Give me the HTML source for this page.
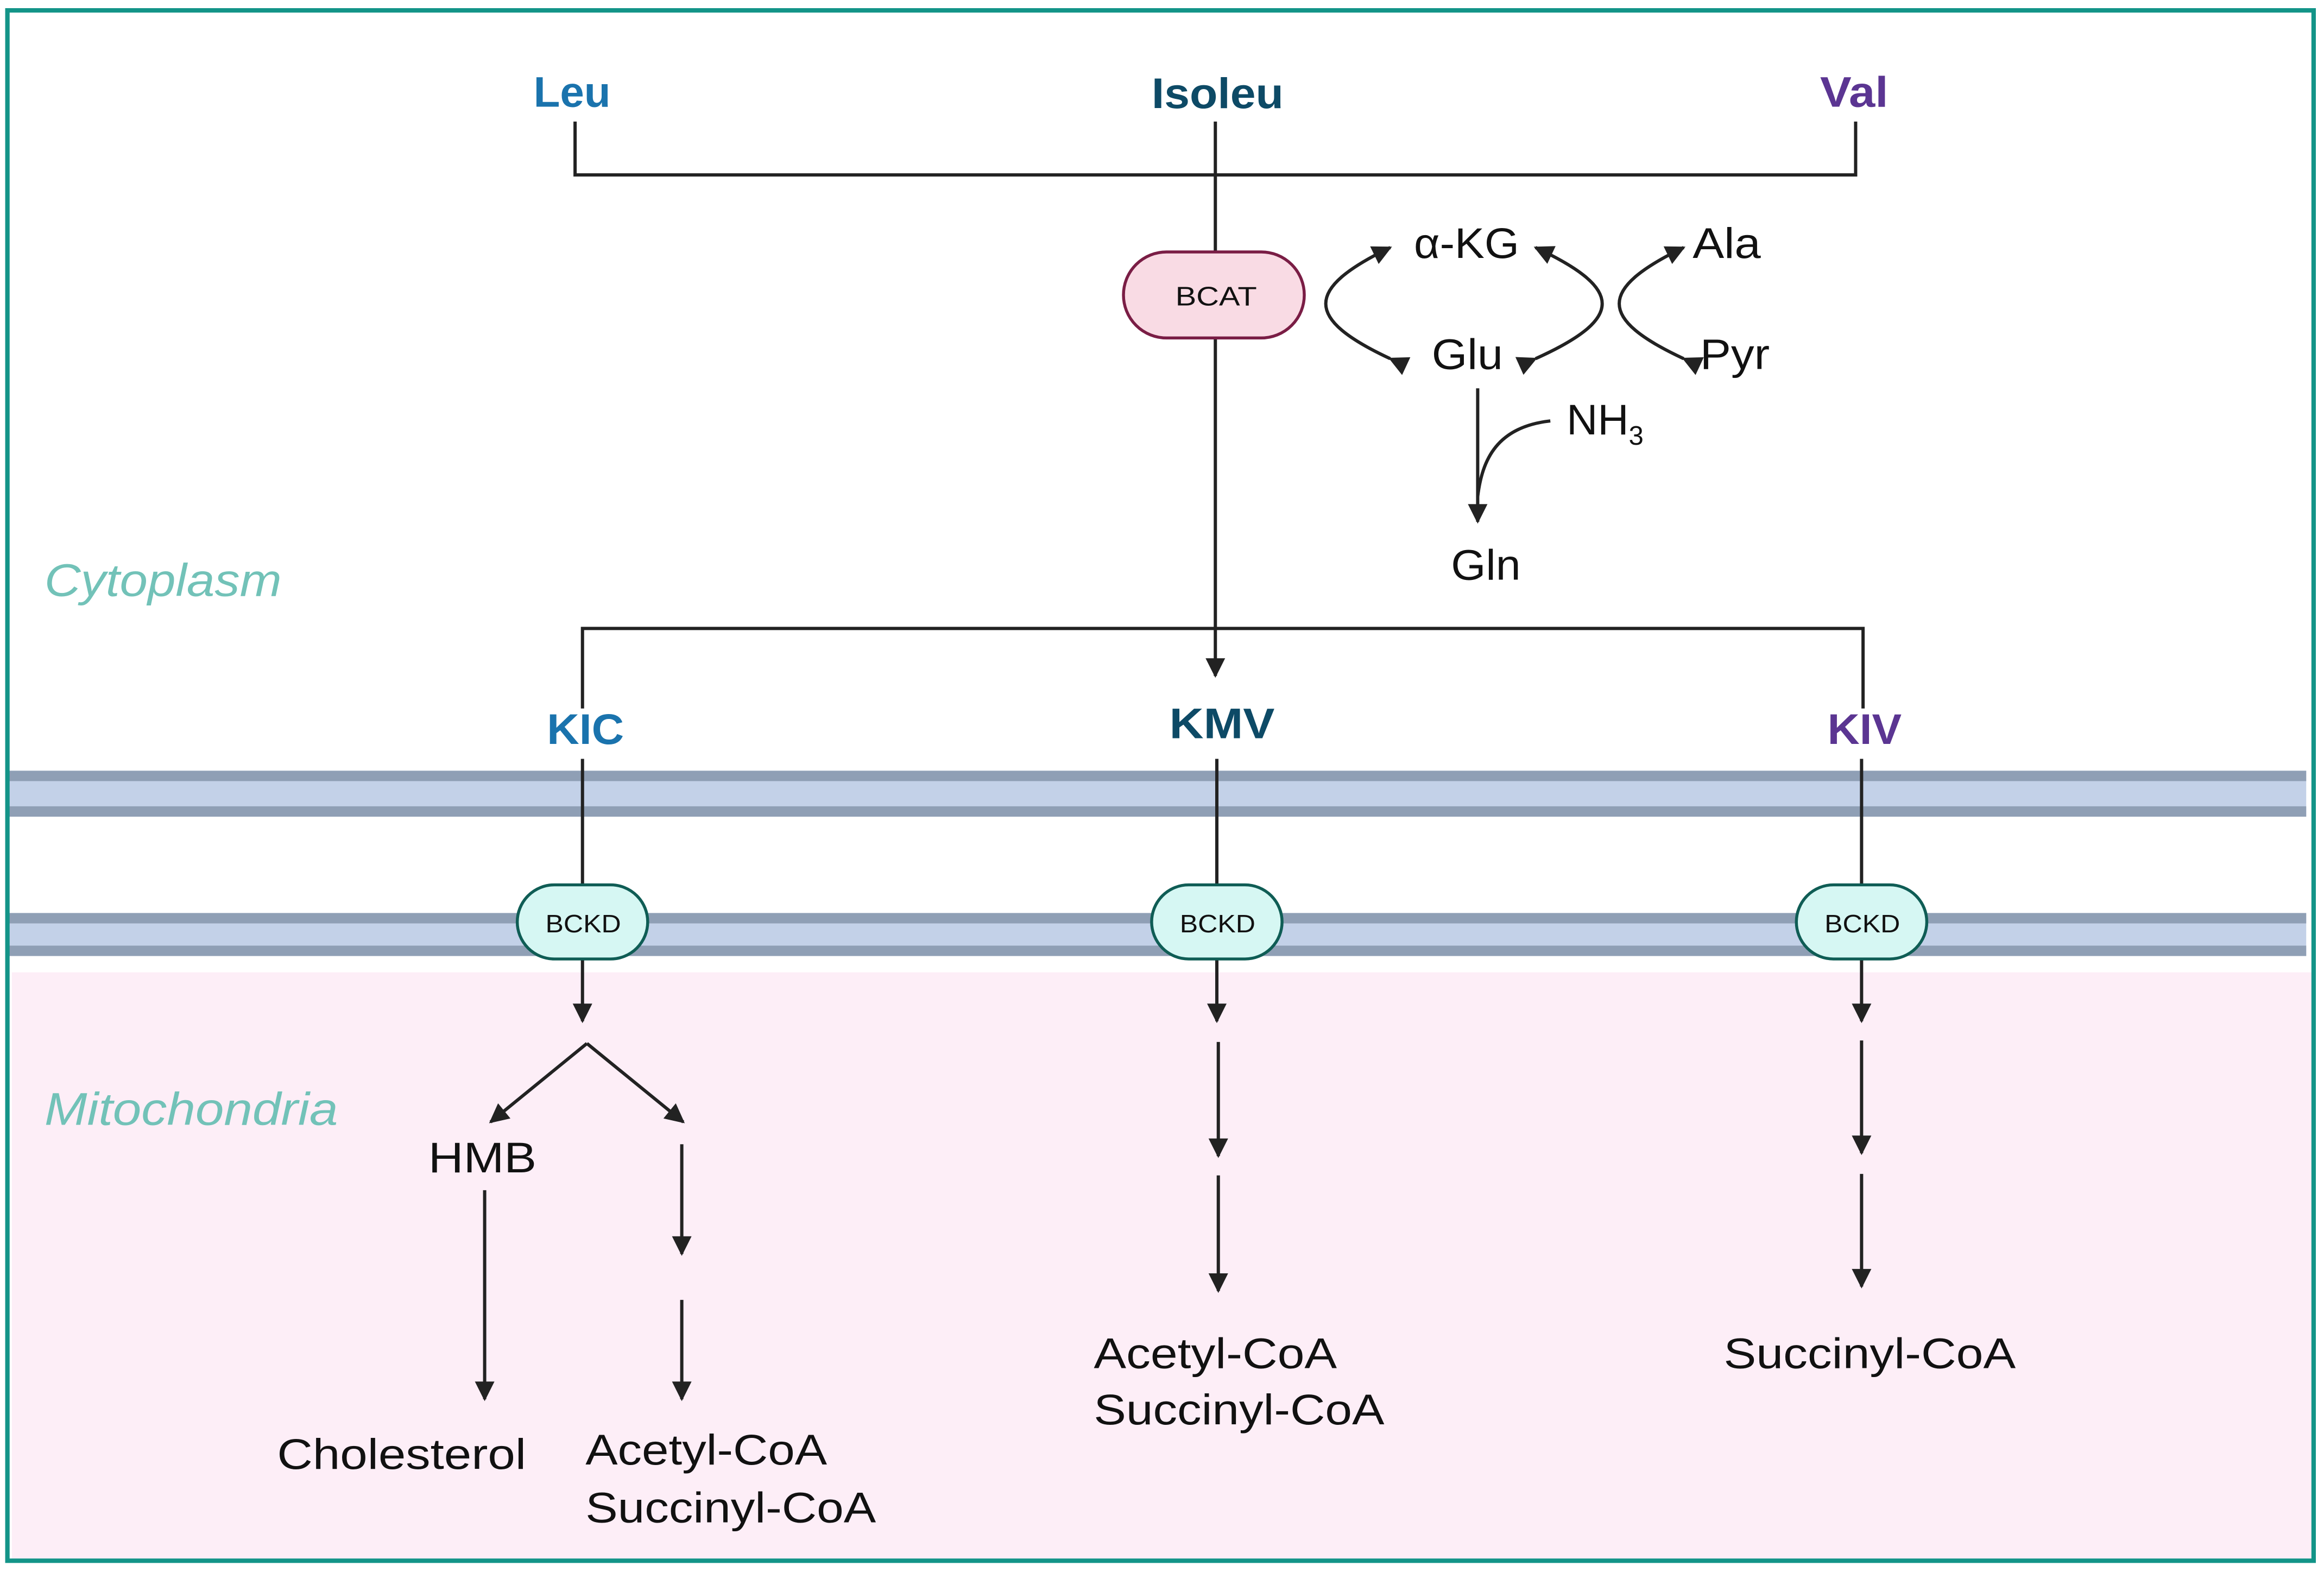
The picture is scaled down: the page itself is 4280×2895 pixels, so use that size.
<!DOCTYPE html>
<html><head><meta charset="utf-8"><style>
html,body{margin:0;padding:0;background:#fff;}
svg{display:block;}
text{font-family:"Liberation Sans",sans-serif;}
</style></head><body>
<svg width="4280" height="2895" viewBox="0 0 1568 1060.6" preserveAspectRatio="none" xmlns="http://www.w3.org/2000/svg">
<defs>
<marker id="a" viewBox="0 0 10 10" refX="9" refY="5" markerWidth="7.5" markerHeight="6" orient="auto" markerUnits="strokeWidth">
<path d="M0,0 L10,5 L0,10 z" fill="#222"/></marker>
</defs>
<rect x="0" y="0" width="1568" height="1061" fill="#fff"/>
<rect x="8" y="656" width="1552" height="396" fill="#fdeef7"/>
<rect x="4" y="520" width="1552" height="31" fill="#c3d1e8"/>
<rect x="4" y="520" width="1552" height="7" fill="#8f9fb5"/>
<rect x="4" y="544" width="1552" height="7" fill="#8f9fb5"/>
<rect x="4" y="616" width="1552" height="29" fill="#c3d1e8"/>
<rect x="4" y="616" width="1552" height="7" fill="#8f9fb5"/>
<rect x="4" y="638" width="1552" height="7" fill="#8f9fb5"/>
<rect x="5" y="7" width="1556" height="1046" fill="none" stroke="#139488" stroke-width="3"/>

<g stroke="#222" stroke-width="2.2" fill="none">
<path d="M388,82 V118 H1252 V82"/>
<path d="M820,82 V170"/>
<path d="M820,228 V456" marker-end="url(#a)"/>
<path d="M393,478 V424 H1257 V478"/>
<path d="M393,512 V597 M821,512 V597 M1256,512 V597"/>
<path d="M393,647 V689" marker-end="url(#a)"/>
<path d="M821,647 V689" marker-end="url(#a)"/>
<path d="M1256,647 V689" marker-end="url(#a)"/>
<path d="M396,704 L331,757" marker-end="url(#a)"/>
<path d="M396,704 L461,757" marker-end="url(#a)"/>
<path d="M327,803 V944" marker-end="url(#a)"/>
<path d="M460,772 V846" marker-end="url(#a)"/>
<path d="M460,877 V944" marker-end="url(#a)"/>
<path d="M822,703 V780" marker-end="url(#a)"/>
<path d="M822,793 V871" marker-end="url(#a)"/>
<path d="M1256,702 V778" marker-end="url(#a)"/>
<path d="M1256,792 V868" marker-end="url(#a)"/>
<path d="M997,262 V352" marker-end="url(#a)"/>
<path d="M1046,284 C1010,288 1000,310 997,335"/>
<path d="M938,242 C880,215 880,195 938,167" marker-end="url(#a)" marker-start="url(#a)"/>
<path d="M1036,242 C1096,215 1096,195 1036,167" marker-end="url(#a)" marker-start="url(#a)"/>
<path d="M1136,242 C1078,215 1078,195 1136,167" marker-end="url(#a)" marker-start="url(#a)"/>
</g>

<rect x="758" y="170" width="122" height="58" rx="29" fill="#f9dbe4" stroke="#7a1d45" stroke-width="2"/>
<text x="793" y="206" font-size="18" textLength="55" lengthAdjust="spacingAndGlyphs" fill="#111">BCAT</text>
<g fill="#d6f7f3" stroke="#0f5d55" stroke-width="2">
<rect x="349" y="597" width="88" height="50" rx="25"/>
<rect x="777" y="597" width="88" height="50" rx="25"/>
<rect x="1212" y="597" width="88" height="50" rx="25"/>
</g>
<g font-size="17" fill="#111">
<text x="368" y="629" textLength="51" lengthAdjust="spacingAndGlyphs">BCKD</text>
<text x="796" y="629" textLength="51" lengthAdjust="spacingAndGlyphs">BCKD</text>
<text x="1231" y="629" textLength="51" lengthAdjust="spacingAndGlyphs">BCKD</text>
</g>

<g font-size="29" font-weight="bold">
<text x="360" y="72" fill="#1a73ad" textLength="52" lengthAdjust="spacingAndGlyphs">Leu</text>
<text x="777" y="73" fill="#0d4a66" textLength="89" lengthAdjust="spacingAndGlyphs">Isoleu</text>
<text x="1228" y="72" fill="#5b3592" textLength="46" lengthAdjust="spacingAndGlyphs">Val</text>
<text x="369" y="502" fill="#1a73ad" textLength="52" lengthAdjust="spacingAndGlyphs">KIC</text>
<text x="789" y="498" fill="#0d4a66" textLength="71" lengthAdjust="spacingAndGlyphs">KMV</text>
<text x="1233" y="502" fill="#5b3592" textLength="50" lengthAdjust="spacingAndGlyphs">KIV</text>
</g>
<g font-size="29" fill="#111">
<text x="954" y="174" textLength="71" lengthAdjust="spacingAndGlyphs">α-KG</text>
<text x="1142" y="174" textLength="46" lengthAdjust="spacingAndGlyphs">Ala</text>
<text x="966" y="249" textLength="48" lengthAdjust="spacingAndGlyphs">Glu</text>
<text x="1147" y="249" textLength="47" lengthAdjust="spacingAndGlyphs">Pyr</text>
<text x="1057" y="293">NH<tspan font-size="18" dy="7">3</tspan></text>
<text x="979" y="391" textLength="47" lengthAdjust="spacingAndGlyphs">Gln</text>
<text x="289" y="791" textLength="73" lengthAdjust="spacingAndGlyphs">HMB</text>
<text x="187" y="991" textLength="168" lengthAdjust="spacingAndGlyphs">Cholesterol</text>
<text x="395" y="988" textLength="163" lengthAdjust="spacingAndGlyphs">Acetyl-CoA</text>
<text x="395" y="1027" textLength="196" lengthAdjust="spacingAndGlyphs">Succinyl-CoA</text>
<text x="738" y="923" textLength="164" lengthAdjust="spacingAndGlyphs">Acetyl-CoA</text>
<text x="738" y="961" textLength="196" lengthAdjust="spacingAndGlyphs">Succinyl-CoA</text>
<text x="1163" y="923" textLength="197" lengthAdjust="spacingAndGlyphs">Succinyl-CoA</text>
</g>
<g font-size="31" font-style="italic" fill="#72c2b8">
<text x="30" y="402" textLength="160" lengthAdjust="spacingAndGlyphs">Cytoplasm</text>
<text x="30" y="759" textLength="198" lengthAdjust="spacingAndGlyphs">Mitochondria</text>
</g>
</svg>
</body></html>
